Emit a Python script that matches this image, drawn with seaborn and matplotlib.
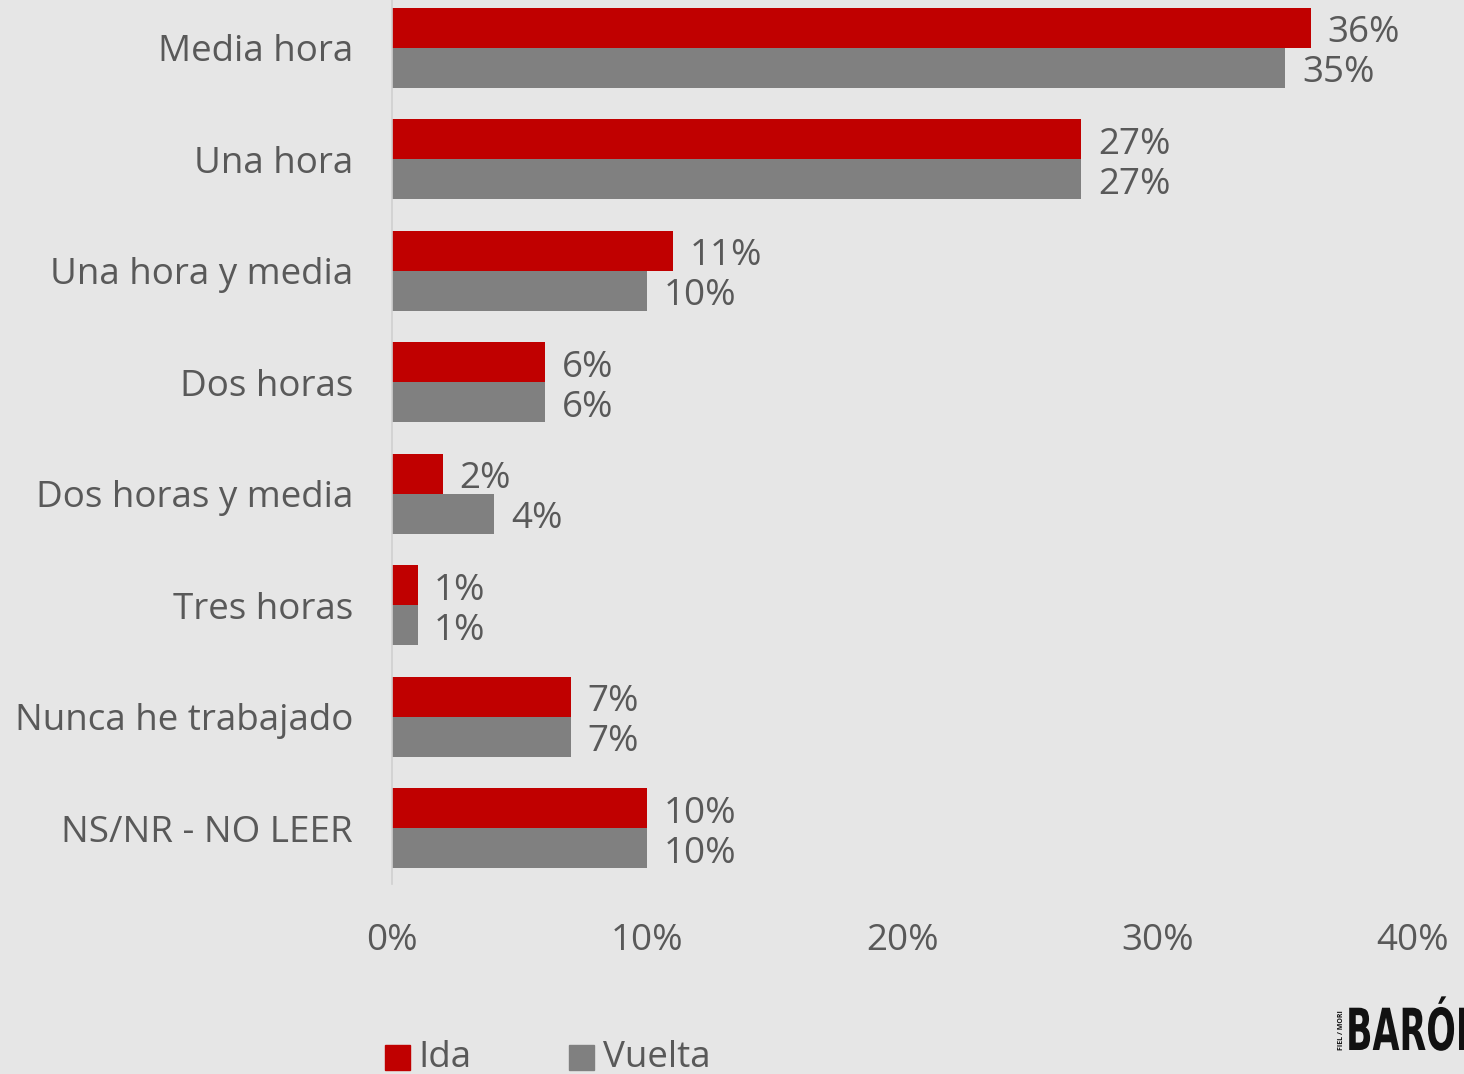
import pandas as pd
import matplotlib.pyplot as plt
import seaborn as sns
from matplotlib.ticker import FuncFormatter
from matplotlib.textpath import TextPath
from matplotlib.patches import PathPatch
from matplotlib.font_manager import FontProperties
from matplotlib.transforms import Affine2D

categorias = ["Media hora", "Una hora", "Una hora y media", "Dos horas",
              "Dos horas y media", "Tres horas", "Nunca he trabajado", "NS/NR - NO LEER"]
ida = [36, 27, 11, 6, 2, 1, 7, 10]
vuelta = [35, 27, 10, 6, 4, 1, 7, 10]
series = ["Ida", "Vuelta"]
colores = ["#C00000", "#808080"]

df = pd.DataFrame({"categoria": categorias * 2,
                   "valor": ida + vuelta,
                   "serie": ["Ida"] * len(ida) + ["Vuelta"] * len(vuelta)})

bg = "#E6E6E6"
txt = "#595959"

sns.set_style("white")
plt.rcParams["font.family"] = ["Open Sans", "DejaVu Sans"]

fig = plt.figure(figsize=(14.64, 10.74), dpi=100, facecolor=bg)
ax = fig.add_axes([392 / 1464, 1 - 884 / 1074, 1021 / 1464, 892 / 1074])
ax.set_facecolor(bg)

sns.barplot(data=df, y="categoria", x="valor", hue="serie", orient="h",
            palette=colores, hue_order=series, width=0.72, saturation=1,
            linewidth=0, ax=ax, legend=False)

for cont in ax.containers:
    etiquetas = ax.bar_label(cont, fmt="%d%%", padding=12, fontsize=26.5, color=txt)
    for t in etiquetas:
        t.xyann = (12, -4)  # un poco más abajo, como en el original

ax.set_xlim(0, 40)
ax.set_ylim(len(categorias) - 0.5, -0.5)
ax.set_xticks([0, 10, 20, 30, 40])
ax.xaxis.set_major_formatter(FuncFormatter(lambda v, p: f"{v:.0f}%"))
ax.tick_params(axis="x", labelsize=26.5, labelcolor=txt, length=0, pad=28)
ax.tick_params(axis="y", labelsize=26.5, labelcolor=txt, length=0, pad=28)
ax.set_xlabel("")
ax.set_ylabel("")
for s in ["top", "right", "bottom"]:
    ax.spines[s].set_visible(False)
ax.spines["left"].set_color("#D0D0D0")
ax.spines["left"].set_linewidth(1.2)

# leyenda abajo
fig.patches.append(plt.Rectangle((385 / 1464, 1 - 1070 / 1074), 25 / 1464, 25 / 1074,
                                 transform=fig.transFigure, color=colores[0]))
fig.text(418 / 1464, 1 - 1058 / 1074, "Ida", fontsize=26.5, color=txt, va="center")
fig.patches.append(plt.Rectangle((569 / 1464, 1 - 1070 / 1074), 25 / 1464, 25 / 1074,
                                 transform=fig.transFigure, color=colores[1]))
fig.text(603 / 1464, 1 - 1058 / 1074, "Vuelta", fontsize=26.5, color=txt, va="center")

# logo condensado (cortado en el borde, igual que en el original)
fig.text(1338 / 1464, 1 - 1030 / 1074, "FIEL / MORI", fontsize=5, rotation=90,
         color="#111111", va="center", ha="left", fontweight="bold")
logo = TextPath((0, 0), "BARÓN", size=58, prop=FontProperties(family="DejaVu Sans", weight="bold"))
fig.patches.append(PathPatch(logo, color="#111111", lw=0,
                             transform=Affine2D().scale(0.6, 1.0).translate(1346, 1074 - 1050)))

fig.savefig("out.png", dpi=100, facecolor=bg)
